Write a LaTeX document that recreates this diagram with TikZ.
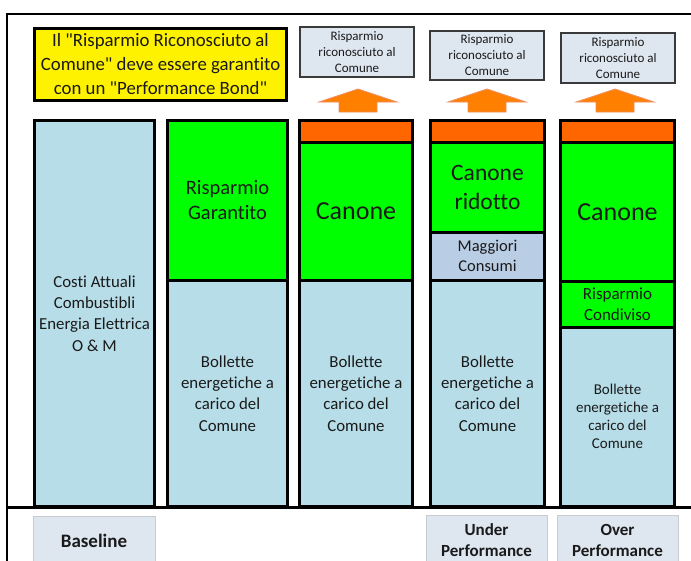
\documentclass[tikz,border=0pt]{standalone}
\usepackage{fontspec}
\setmainfont{Carlito}[Ligatures={TeXOff,NoCommon}]
\definecolor{cellblue}{HTML}{B7DDE8}
\definecolor{cellgreen}{HTML}{00FF00}
\definecolor{cellorange}{HTML}{FF6600}
\definecolor{cellgrey}{HTML}{B9CDE5}
\definecolor{notefill}{HTML}{DEE6F0}
\definecolor{noteedge}{HTML}{3A3A3A}
\definecolor{tagedge}{HTML}{C8CCD0}
\definecolor{arrowfill}{HTML}{FF8000}
\definecolor{arrowedge}{HTML}{F09060}
\definecolor{inktext}{HTML}{1A1A1A}
\newcommand{\fsz}[2]{\fontsize{#1}{#2}\selectfont}
\tikzset{
  cell/.style={draw=black, line width=3pt, outer sep=0pt, inner sep=0pt,
    anchor=north west, align=center, text=inktext},
  note/.style={draw=noteedge, line width=1.2pt, fill=notefill, outer sep=0pt,
    inner sep=0pt, anchor=north west, align=center, text=inktext,
    font=\fsz{13}{16}},
  tag/.style={draw=tagedge, line width=1pt, fill=notefill, outer sep=0pt,
    inner sep=0pt, anchor=north west, align=center, text=inktext},
  uparrow/.style={fill=arrowfill, draw=arrowedge, line width=0.8pt, line join=miter},
  frameline/.style={draw=black, line width=2pt},
  body/.style={font=\fsz{16.8}{21.3}},
}
% cell: name, left, top, right, bottom (centre-line coordinates), style, text
\newcommand{\cellbox}[7]{%
  \node[cell, #6, minimum width={(#4-#2)*1pt}, minimum height={(#5-#3)*1pt}]
    (#1) at (#2,#3) {#7};}
% block arrow pointing up, centred on x
\newcommand{\blockarrow}[1]{%
  \draw[uparrow] (#1,89) -- (#1+39,102) -- (#1+19,102) -- (#1+19,112)
    -- (#1-19,112) -- (#1-19,102) -- (#1-39,102) -- cycle;}
\begin{document}
\begin{tikzpicture}[x=1pt,y=-1pt]
\useasboundingbox (0,0) rectangle (691,560);
\clip (0,0) rectangle (691,560);
\fill[white] (0,0) rectangle (691,560);

% outer frame and baseline rule
\draw[frameline] (7,600) -- (7,14) -- (720,14);
\draw[draw=black, line width=3pt] (7,507) -- (720,507);

% heading note
\node[cell, fill=yellow, line width=3pt, minimum width=252pt, minimum height=72pt,
  font=\fsz{18.8}{24}]
  (bond) at (34.5,28.5) {Il "Risparmio Riconosciuto al\\
  Comune" deve essere garantito\\ con un "Performance Bond"};

% column 1 : baseline
\cellbox{base}{34.5}{120.5}{154.5}{506.5}{fill=cellblue, body}
  {Costi Attuali\\Combustibli\\Energia Elettrica\\O \& M}

% column 2 : guaranteed saving
\cellbox{gGreen}{167.5}{120.5}{287.5}{280.5}{fill=cellgreen, font=\fsz{20.5}{25}}
  {Risparmio\\Garantito}
\cellbox{gBlue}{167.5}{280.5}{287.5}{506.5}{fill=cellblue, body}
  {Bollette\\energetiche a\\carico del\\Comune}

% column 3 : fee
\cellbox{cOrange}{299.5}{120.5}{412.5}{142.5}{fill=cellorange}{}
\cellbox{cGreen}{299.5}{142.5}{412.5}{280.5}{fill=cellgreen, font=\fsz{26}{30}}
  {Canone}
\cellbox{cBlue}{299.5}{280.5}{412.5}{506.5}{fill=cellblue, body}
  {Bollette\\energetiche a\\carico del\\Comune}

% column 4 : under performance
\cellbox{uOrange}{430.5}{120.5}{544.5}{142.5}{fill=cellorange}{}
\cellbox{uGreen}{430.5}{142.5}{544.5}{232}{fill=cellgreen, font=\fsz{23.5}{29}}
  {Canone\\ridotto}
\cellbox{uGrey}{430.5}{232}{544.5}{280.5}{fill=cellgrey, font=\fsz{16.5}{20}}
  {Maggiori\\Consumi}
\cellbox{uBlue}{430.5}{280.5}{544.5}{506.5}{fill=cellblue, body}
  {Bollette\\energetiche a\\carico del\\Comune}

% column 5 : over performance
\cellbox{oOrange}{560.5}{120.5}{674.5}{142.5}{fill=cellorange}{}
\cellbox{oGreen}{560.5}{142.5}{674.5}{281.5}{fill=cellgreen, font=\fsz{26}{30}}
  {Canone}
\cellbox{oShare}{560.5}{281.5}{674.5}{327}{fill=cellgreen, font=\fsz{17}{21}}
  {Risparmio\\Condiviso}
\cellbox{oBlue}{560.5}{327}{674.5}{506.5}{fill=cellblue, font=\fsz{15}{18}}
  {Bollette\\energetiche a\\carico del\\Comune}

% recognised-saving notes
\node[note, minimum width=114pt, minimum height=50pt] (rec1) at (300,27)
  {Risparmio\\riconosciuto al\\Comune};
\node[note, minimum width=114pt, minimum height=49pt] (rec2) at (430,31)
  {Risparmio\\riconosciuto al\\Comune};
\node[note, minimum width=114pt, minimum height=50pt] (rec3) at (561,33)
  {Risparmio\\riconosciuto al\\Comune};

% arrows from the fee share up to the notes
\blockarrow{358}
\blockarrow{487}
\blockarrow{615}

% scenario tags
\node[tag, minimum width=122pt, minimum height=50pt, font=\fsz{19}{22}\bfseries]
  (tBase) at (33,516) {Baseline};
\node[tag, minimum width=121pt, minimum height=50pt, font=\fsz{17}{21}\bfseries]
  (tUnder) at (426,515) {Under\\Performance};
\node[tag, minimum width=121pt, minimum height=50pt, font=\fsz{17}{21}\bfseries]
  (tOver) at (557,515) {Over\\Performance};
\end{tikzpicture}
\end{document}
